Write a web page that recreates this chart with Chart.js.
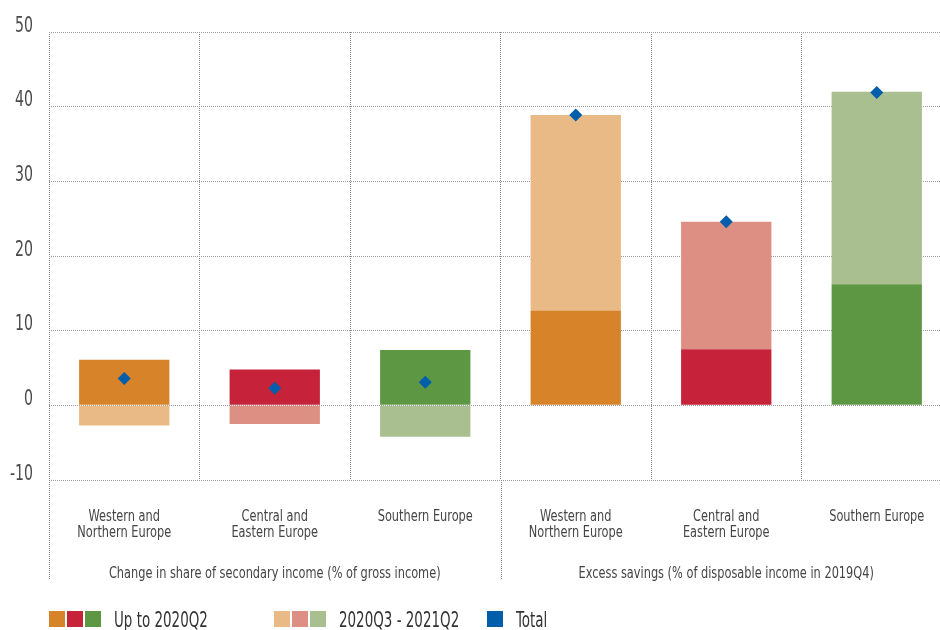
<!DOCTYPE html>
<html><head><meta charset="utf-8">
<script src="https://cdn.jsdelivr.net/npm/chart.js@4/dist/chart.umd.min.js"></script>
<style>
html,body{margin:0;padding:0;overflow:hidden;background:#fff;width:940px;height:630px}
#wrap{width:960px;height:630px;position:relative}
</style></head><body><div id="wrap"><canvas id="c" width="960" height="630"></canvas></div>
<script>
const categories = [["Western and","Northern Europe"],["Central and","Eastern Europe"],"Southern Europe",["Western and","Northern Europe"],["Central and","Eastern Europe"],"Southern Europe"];
const groupLabels = ["Change in share of secondary income (% of gross income)","Excess savings (% of disposable income in 2019Q4)"];
const seriesNames = ["Up to 2020Q2","2020Q3 - 2021Q2","Total"];
const upTo2020Q2 = [6.1, 4.8, 7.4, 12.7, 7.5, 16.2];
const from2020Q3 = [-2.7, -2.5, -4.2, 26.2, 17.1, 25.8];
const totalValues = [3.6, 2.3, 3.1, 38.9, 24.6, 41.9];
const yTickValues = [-10, 0, 10, 20, 30, 40, 50];

const darkColors = ['#D6832A','#C6233A','#5D9744','#D6832A','#C6233A','#5D9744'];
const lightColors = ['#E9BA86','#DE8F83','#AABF8F','#E9BA86','#DE8F83','#AABF8F'];
const blue = '#005EAB';
const FONT = "'DejaVu Sans Condensed','Liberation Sans Narrow',sans-serif";
// horizontal condensing per font size (to imitate a condensed typeface)
const SX_BY_SIZE = { '21.5': 0.73, '16.5': 0.765, '22': 0.68 };

const canvas = document.getElementById('c');
const c2d = canvas.getContext('2d');
const origFillText = c2d.fillText.bind(c2d);
c2d.fillText = function(text, x, y, maxWidth) {
  const m = /([\d.]+)px/.exec(this.font);
  const sx = (m && SX_BY_SIZE[String(parseFloat(m[1]))]) || 0.76;
  this.save();
  this.translate(x, y);
  this.scale(sx, 1);
  origFillText(text, 0, 0);
  this.restore();
};

const extras = {
  id: 'extras',
  afterDraw(chart) {
    const ctx = chart.ctx, ca = chart.chartArea, xs = chart.scales.x;
    ctx.save();
    ctx.strokeStyle = '#888'; ctx.lineWidth = 1; ctx.setLineDash([1,1]);
    const sepX = [ca.left, (xs.getPixelForTick(2) + xs.getPixelForTick(3)) / 2];
    sepX.forEach(px => {
      const p = Math.round(px) + 0.5;
      ctx.beginPath(); ctx.moveTo(p, ca.bottom); ctx.lineTo(p, 579); ctx.stroke();
    });
    ctx.setLineDash([]);
    ctx.fillStyle = '#444'; ctx.font = '16.5px ' + FONT;
    ctx.textAlign = 'center'; ctx.textBaseline = 'alphabetic';
    ctx.fillText(groupLabels[0], xs.getPixelForTick(1), 578);
    ctx.fillText(groupLabels[1], xs.getPixelForTick(4), 578);
    const ly = 611, sz = 16;
    ctx.font = '22px ' + FONT; ctx.textAlign = 'left';
    const drawGroup = (x0, cols, text) => {
      cols.forEach((c, i) => { ctx.fillStyle = c; ctx.fillRect(x0 + i * 18, ly, sz, sz); });
      ctx.fillStyle = '#333';
      ctx.fillText(text, x0 + (cols.length - 1) * 18 + sz + 13, ly + 16);
    };
    drawGroup(49, darkColors.slice(0,3), seriesNames[0]);
    drawGroup(274, lightColors.slice(0,3), seriesNames[1]);
    drawGroup(487, [blue], seriesNames[2]);
    ctx.restore();
  }
};

new Chart(c2d, {
  data: {
    labels: categories,
    datasets: [
      { type: 'bar', label: seriesNames[0], data: upTo2020Q2, backgroundColor: darkColors, borderWidth: 0, order: 1, stack: 's' },
      { type: 'bar', label: seriesNames[1], data: from2020Q3, backgroundColor: lightColors, borderWidth: 0, order: 1, stack: 's' },
      { type: 'line', label: seriesNames[2], data: totalValues, showLine: false, pointStyle: 'rectRot',
        pointRadius: 6.5, pointBackgroundColor: blue, pointBorderWidth: 0, borderColor: blue, order: 0, stack: 'total' }
    ]
  },
  options: {
    responsive: false, animation: false,
    layout: { padding: { left: 0, top: 32, right: 8, bottom: 0 } },
    plugins: { legend: { display: false }, tooltip: { enabled: false } },
    datasets: { bar: { barPercentage: 0.6, categoryPercentage: 1 } },
    scales: {
      x: {
        stacked: true, offset: true,
        grid: { color: '#888', drawTicks: false, offset: true },
        border: { display: false, dash: [1,1] },
        ticks: { font: { size: 16.5, family: FONT, lineHeight: 1 }, color: '#444', padding: 28, maxRotation: 0, autoSkip: false },
        afterFit(s) { s.height = 150; s.paddingLeft = 0; s.paddingRight = 0; }
      },
      y: {
        stacked: true, min: -10, max: 50,
        afterBuildTicks(s) { s.ticks = yTickValues.map(v => ({ value: v })); },
        grid: { color: '#999', drawTicks: false },
        border: { display: false, dash: [1,1] },
        ticks: { font: { size: 21.5, family: FONT }, color: '#4a4a4a', padding: 16, labelOffset: -6 },
        afterFit(s) { s.width = 49; }
      }
    }
  },
  plugins: [extras]
});
</script></body></html>
